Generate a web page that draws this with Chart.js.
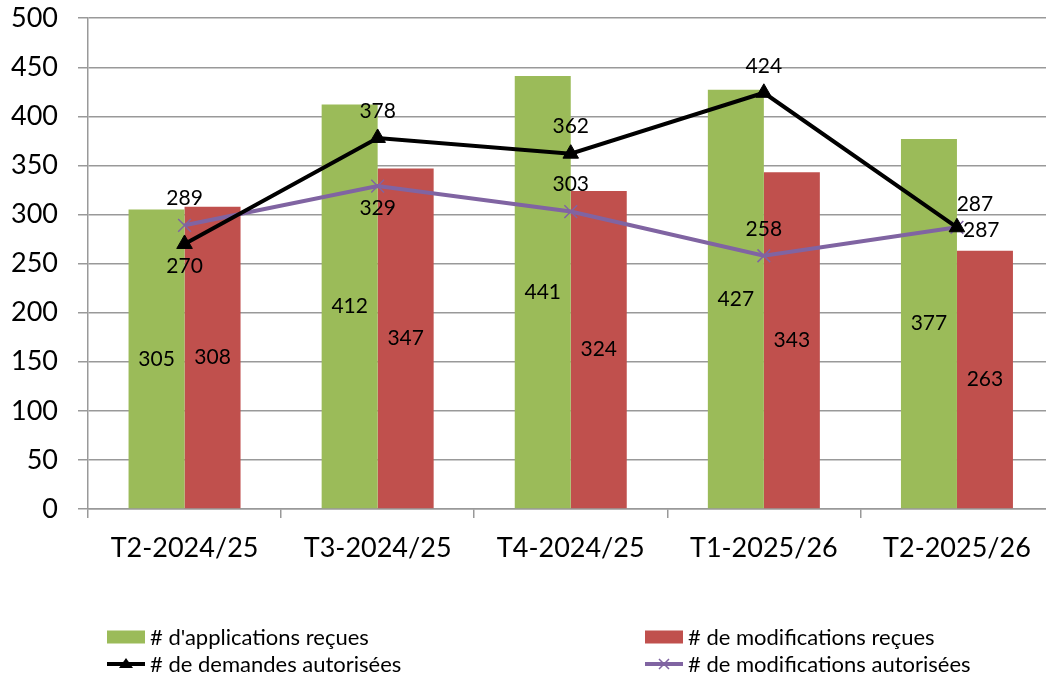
<!DOCTYPE html>
<html><head><meta charset="utf-8">
<script src="https://cdn.jsdelivr.net/npm/chart.js@4/dist/chart.umd.min.js"></script>
<style>
html,body{margin:0;padding:0;background:#fff;overflow:hidden;width:1046px;height:676px;}
#wrap{position:absolute;left:0;top:0;width:1064px;height:676px;}
.leg{position:absolute;font-family:Lato,"Liberation Sans",sans-serif;font-size:22px;color:#000;line-height:26px;white-space:nowrap;display:flex;align-items:center;}
.leg svg{margin-right:4px;}
</style></head>
<body>
<div id="wrap"><canvas id="c" width="1064" height="676"></canvas></div>
<div class="leg" style="left:107px;top:624px;"><svg width="39" height="14"><rect x="0" y="0.5" width="38" height="13" fill="#9BBB59"/></svg># d'applications reçues</div>
<div class="leg" style="left:645px;top:624px;"><svg width="39" height="14"><rect x="0" y="0.5" width="38" height="13" fill="#C0504D"/></svg># de modifications reçues</div>
<div class="leg" style="left:107px;top:651px;"><svg width="39" height="16"><line x1="0" y1="8" x2="38" y2="8" stroke="#000" stroke-width="4"/><polygon points="19,2 26,12 12,12" fill="#000"/></svg># de demandes autorisées</div>
<div class="leg" style="left:645px;top:651px;"><svg width="39" height="16"><line x1="0" y1="8" x2="38" y2="8" stroke="#8064A2" stroke-width="4"/><path d="M14 3 L24 13 M24 3 L14 13" stroke="#8064A2" stroke-width="1.5"/></svg># de modifications autorisées</div>
<script>
const categories = ['T2-2024/25','T3-2024/25','T4-2024/25','T1-2025/26','T2-2025/26'];
const applicationsRecues = [305, 412, 441, 427, 377];
const modificationsRecues = [308, 347, 324, 343, 263];
const demandesAutorisees = [270, 378, 362, 424, 287];
const modificationsAutorisees = [289, 329, 303, 258, 287];
const yTicks = [0,50,100,150,200,250,300,350,400,450,500];

const blackLabelPos = ['below','above','above','above','right'];
const purpleLabelPos = ['above','below','above','above','aboveright'];

const FONT = 'Lato, "Liberation Sans", sans-serif';

const dataLabels = {
  id: 'dataLabels',
  afterDatasetsDraw(chart) {
    const ctx = chart.ctx;
    ctx.save();
    ctx.font = '21px ' + FONT;
    ctx.fillStyle = '#000';
    chart.data.datasets.forEach((ds, di) => {
      const meta = chart.getDatasetMeta(di);
      meta.data.forEach((el, i) => {
        const v = ds.data[i];
        let x = el.x, y = el.y;
        ctx.textAlign = 'center';
        ctx.textBaseline = 'middle';
        if (ds.type === 'line') {
          const pos = (ds.labelPos || [])[i] || 'above';
          if (pos === 'above') { y -= 27; }
          else if (pos === 'below') { y += 22; }
          else if (pos === 'right') { x += 6; y += 3; ctx.textAlign = 'left'; }
          else if (pos === 'aboveright') { x += 18; y -= 23; }
        } else {
          y = (el.y + el.base) / 2;
        }
        ctx.fillText(String(v), x, y);
      });
    });
    ctx.restore();
  }
};

new Chart(document.getElementById('c'), {
  type: 'bar',
  data: {
    labels: categories,
    datasets: [
      { label: "# d'applications reçues", data: applicationsRecues, backgroundColor: '#9BBB59', order: 3 },
      { label: '# de modifications reçues', data: modificationsRecues, backgroundColor: '#C0504D', order: 3 },
      { type: 'line', label: '# de demandes autorisées', data: demandesAutorisees, borderColor: '#000', backgroundColor: '#000',
        borderWidth: 4, pointStyle: 'triangle', pointRadius: 9, pointBorderWidth: 1, tension: 0, order: 1, labelPos: blackLabelPos },
      { type: 'line', label: '# de modifications autorisées', data: modificationsAutorisees, borderColor: '#8064A2', backgroundColor: '#8064A2',
        borderWidth: 4, pointStyle: 'crossRot', pointRadius: 9, pointBorderWidth: 1.5, tension: 0, order: 2, labelPos: purpleLabelPos }
    ]
  },
  options: {
    responsive: false,
    animation: false,
    layout: { padding: { left: 0, top: 0, right: 1.5, bottom: 100 } },
    datasets: { bar: { barPercentage: 1, categoryPercentage: 0.58 } },
    plugins: { legend: { display: false }, tooltip: { enabled: false } },
    scales: {
      x: {
        offset: true,
        grid: { offset: true, drawOnChartArea: false, drawTicks: true, tickLength: 9, color: '#999', lineWidth: 1.5 },
        border: { color: '#999', width: 1.5 },
        ticks: { color: '#000', font: { family: FONT, size: 27 }, padding: 14, maxRotation: 0 },
        afterFit(s) { s.height = 67; }
      },
      y: {
        min: 0, max: 500,
        afterBuildTicks(s) { s.ticks = yTicks.map(v => ({ value: v })); },
        grid: { color: '#999', lineWidth: 1.5, tickLength: 28, drawTicks: true, tickBorderDash: [0, 18, 10, 1000] },
        border: { color: '#999', width: 1.5 },
        ticks: { color: '#000', font: { family: FONT, size: 27 }, padding: 2 },
        afterFit(s) { s.width = 88; }
      }
    }
  },
  plugins: [dataLabels]
});
</script>
</body></html>
